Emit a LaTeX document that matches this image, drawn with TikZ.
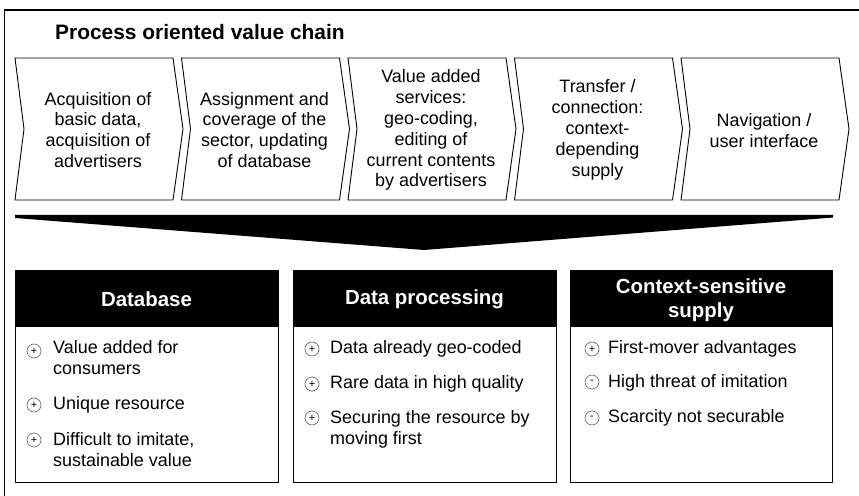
\documentclass[tikz,border=0pt]{standalone}
\usepackage{fontspec}
\setmainfont{Liberation Sans}
\begin{document}
\begin{tikzpicture}[x=1bp,y=-1bp,
  chev/.style={draw=black,line width=0.9bp,fill=white},
  chevtext/.style={align=center,inner sep=0pt,font=\fontsize{18}{21}\selectfont},
  head/.style={fill=black,draw=black,line width=0.9bp},
  body/.style={draw=black,line width=0.9bp,fill=white},
  headtext/.style={text=white,align=center,inner sep=0pt,font=\bfseries\fontsize{20.5}{24}\selectfont},
  itemtext/.style={anchor=base west,align=left,inner sep=0pt,font=\fontsize{18}{21}\selectfont},
  bullet/.style={circle,draw=black!55,line width=0.7bp,minimum size=14bp,inner sep=0pt,font=\fontsize{11}{11}\selectfont}
]
\useasboundingbox (0,0) rectangle (859,496);
\begin{scope}
\clip (0,0) rectangle (859,496);
\draw[line width=1.6bp] (4.5,10) rectangle (900,540);
\end{scope}
\node[anchor=base west,inner sep=0pt,font=\bfseries\fontsize{21}{24}\selectfont] (title) at (55,40) {Process oriented value chain};
% chevrons
\foreach \x in {15,181.5,348,514.5,681}{
  \draw[chev] (\x,58) -- (\x+158,58) -- (\x+168,129) -- (\x+158,200) -- (\x,200) -- (\x+9,129) -- cycle;
}
\node[chevtext] (c1) at (98,130) {Acquisition of\\basic data,\\acquisition of\\advertisers};
\node[chevtext] (c2) at (264.5,130) {Assignment and\\coverage of the\\sector, updating\\of database};
\node[chevtext] (c3) at (431,130) {Value added\\services:\\geo-coding,\\editing of\\current contents\\by advertisers};
\node[chevtext] (c4) at (597.5,130) {Transfer /\\connection:\\context-\\depending\\supply};
\node[chevtext] (c5) at (764,131) {Navigation /\\user interface};
% wedge
\fill[black] (15,215) -- (833,215) -- (833,217.5) -- (424,250) -- (15,218) -- cycle;
% boxes
\foreach \a/\b in {15/278,293/556,570/832}{
  \draw[body] (\a,326) rectangle (\b,482);
  \draw[head] (\a,270) rectangle (\b,326);
}
\node[headtext] (h1) at (146.5,299) {Database};
\node[headtext] (h2) at (424.5,299) {Data processing};
\node[headtext] (h3) at (701,300.5) {Context-sensitive\\supply};
% box 1 items
\node[bullet] (b11) at (34,351) {+};
\node[itemtext] (t11) at (53,374.5) {Value added for\\consumers};
\node[bullet] (b12) at (34,405) {+};
\node[itemtext] (t12) at (53,409.5) {Unique resource};
\node[bullet] (b13) at (34,440) {+};
\node[itemtext] (t13) at (53,466) {Difficult to imitate,\\sustainable value};
% box 2 items
\node[bullet] (b21) at (312,349) {+};
\node[itemtext] (t21) at (330,353.5) {Data already geo-coded};
\node[bullet] (b22) at (312,384) {+};
\node[itemtext] (t22) at (330,388) {Rare data in high quality};
\node[bullet] (b23) at (312,418) {+};
\node[itemtext] (t23) at (330,444) {Securing the resource by\\moving first};
% box 3 items
\node[bullet] (b31) at (592,349) {+};
\node[itemtext] (t31) at (608,353.5) {First-mover advantages};
\node[bullet] (b32) at (592,382) {-};
\node[itemtext] (t32) at (608,387) {High threat of imitation};
\node[bullet] (b33) at (592,418) {-};
\node[itemtext] (t33) at (608,422.5) {Scarcity not securable};
\end{tikzpicture}
\end{document}
